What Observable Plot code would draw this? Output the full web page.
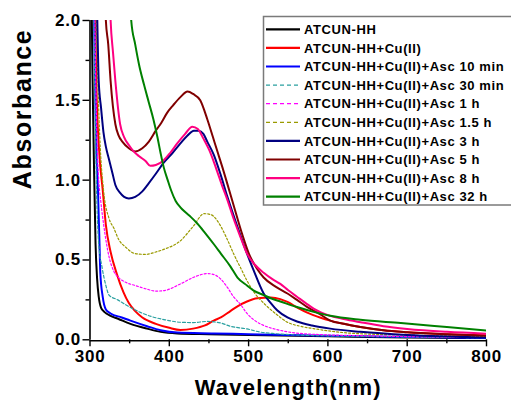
<!DOCTYPE html>
<html><head><meta charset="utf-8">
<script src="https://cdn.jsdelivr.net/npm/d3@7"></script>
<script src="https://cdn.jsdelivr.net/npm/@observablehq/plot@0.6"></script>
<style>
body{margin:0;background:#fff;}
#chart{position:relative;width:511px;height:406px;overflow:hidden;}
#chart svg text{letter-spacing:0.8px;}
#chart svg .ttlx text{letter-spacing:1.2px;}
#chart svg .ttly text{letter-spacing:1.6px;}
#chart svg .lgd text{letter-spacing:0.6px;}
</style></head><body><div id="chart"></div>
<script>
// ---- data ----
const seriesNames = ["ATCUN-HH","ATCUN-HH+Cu(II)","ATCUN-HH+Cu(II)+Asc 10 min","ATCUN-HH+Cu(II)+Asc 30 min","ATCUN-HH+Cu(II)+Asc 1 h","ATCUN-HH+Cu(II)+Asc 1.5 h","ATCUN-HH+Cu(II)+Asc 3 h","ATCUN-HH+Cu(II)+Asc 5 h","ATCUN-HH+Cu(II)+Asc 8 h","ATCUN-HH+Cu(II)+Asc 32 h"];
const seriesColors = ["#000000","#ff0000","#0000ff","#2aa0a0","#ff00ff","#9a9a00","#000080","#800000","#ff0080","#008000"];
const seriesDash = [null,null,null,"3,2","2,2","2,2",null,null,null,null];

const wlBlack  = [301,303,305,307,309,311,314,318,326,336,351,372,389,410,450,500,600,700,800];
const absBlack = [2.6,1.7,1.1,0.6,0.38,0.27,0.2,0.175,0.15,0.13,0.1,0.07,0.05,0.04,0.035,0.03,0.022,0.015,0.01];

const wlRed  = [305,308,312,316,320,326,334,342,349,357,366,383,400,414,430,445,456,465,477,486,498,511,528,540,549,562,574,590,603,620,641,670,700,750,800];
const absRed = [2.5,1.6,1.15,0.94,0.72,0.55,0.41,0.3,0.23,0.18,0.14,0.1,0.075,0.062,0.07,0.09,0.12,0.14,0.18,0.21,0.24,0.26,0.265,0.255,0.237,0.2,0.17,0.14,0.12,0.1,0.08,0.06,0.048,0.035,0.028];

const wlBlue  = [304,306,308,310,312,313,316,320,326,340,351,372,389,410,456,500,600,700,800];
const absBlue = [2.5,1.7,1.2,0.94,0.6,0.42,0.27,0.19,0.165,0.14,0.12,0.085,0.06,0.045,0.04,0.035,0.025,0.018,0.012];

const wlTeal  = [304,306,308,311,315,320,324,335,345,360,378,395,414,430,448,465,477,498,515,530,560,600,700,800];
const absTeal = [2.5,1.6,1.0,0.6,0.46,0.34,0.28,0.25,0.22,0.18,0.145,0.125,0.11,0.108,0.115,0.105,0.085,0.068,0.048,0.04,0.03,0.025,0.018,0.013];

const wlMag  = [305,307,310,314,317,324,330,336,345,357,370,383,395,414,430,448,458,465,473,481,490,498,508,519,535,549,580,650,800];
const absMag = [2.5,1.7,1.1,0.85,0.73,0.52,0.43,0.39,0.36,0.34,0.32,0.305,0.31,0.35,0.39,0.415,0.405,0.38,0.33,0.27,0.22,0.165,0.12,0.09,0.065,0.05,0.035,0.025,0.015];

const wlOlive  = [306,308,310,313,317,324,330,336,345,357,370,383,395,414,430,444,452,460,465,473,481,490,498,508,519,535,549,565,582,610,633,700,800];
const absOlive = [2.5,2.0,1.6,1.2,0.94,0.76,0.7,0.63,0.58,0.54,0.535,0.55,0.57,0.62,0.71,0.79,0.785,0.75,0.71,0.63,0.54,0.45,0.37,0.29,0.23,0.16,0.11,0.085,0.07,0.05,0.04,0.03,0.02];

const wlNavy  = [307,309,311,314,317,320,324,328,332,338,343,349,357,366,374,383,393,404,414,423,431,437,443,448,456,465,473,483,490,498,506,519,528,536,549,561,580,603,641,700,800];
const absNavy = [2.5,2.05,1.62,1.45,1.3,1.21,1.13,1.05,0.97,0.92,0.895,0.885,0.895,0.93,0.98,1.04,1.11,1.17,1.23,1.28,1.31,1.31,1.29,1.24,1.16,1.03,0.9,0.75,0.65,0.54,0.44,0.29,0.23,0.185,0.14,0.115,0.09,0.07,0.05,0.03,0.015];

const wlBrown  = [317,320,323,326,332,336,341,349,357,366,374,383,390,397,405,414,423,430,439,448,455,460,467,473,483,492,502,510,519,535,549,561,574,590,603,620,641,670,700,750,800];
const absBrown = [2.5,2.0,1.85,1.62,1.35,1.28,1.24,1.2,1.18,1.2,1.24,1.31,1.36,1.42,1.47,1.52,1.555,1.54,1.5,1.38,1.27,1.19,1.08,0.98,0.81,0.66,0.52,0.45,0.39,0.33,0.29,0.25,0.205,0.16,0.12,0.1,0.08,0.06,0.048,0.035,0.025];

const wlPink  = [323,326,329,332,338,343,349,355,362,370,376,383,393,401,410,420,429,436,443,452,460,467,473,481,490,498,508,519,530,540,550,561,572,582,603,620,641,670,700,750,800];
const absPink = [2.5,2.0,1.8,1.62,1.35,1.27,1.22,1.18,1.15,1.12,1.09,1.095,1.125,1.17,1.23,1.29,1.335,1.32,1.26,1.17,1.06,0.96,0.88,0.76,0.64,0.54,0.47,0.42,0.38,0.35,0.31,0.27,0.23,0.195,0.15,0.13,0.11,0.085,0.068,0.05,0.038];

const wlGreen  = [349,352,357,362,368,374,380,385,389,393,398,402,408,414,420,427,435,445,456,465,477,486,498,506,519,528,540,561,582,603,641,692,750,800];
const absGreen = [2.5,2.0,1.85,1.72,1.6,1.49,1.38,1.27,1.17,1.08,1.0,0.94,0.87,0.83,0.8,0.77,0.73,0.67,0.6,0.54,0.46,0.39,0.34,0.31,0.28,0.26,0.24,0.205,0.175,0.15,0.125,0.105,0.08,0.058];

const xMajorTicks = [300,400,500,600,700,800];
const xMinorTicks = [350,450,550,650,750];
const yMajorTicks = [0,0.5,1,1.5,2];
const yMinorTicks = [0.25,0.75,1.25,1.75];
const xTitle = "Wavelength(nm)";
const yTitle = "Absorbance";

// ---- build table ----
const wlAll = [wlBlack,wlRed,wlBlue,wlTeal,wlMag,wlOlive,wlNavy,wlBrown,wlPink,wlGreen];
const absAll = [absBlack,absRed,absBlue,absTeal,absMag,absOlive,absNavy,absBrown,absPink,absGreen];
const tables = seriesNames.map((name,i) => wlAll[i].map((w,j) => ({series:name, wl:w, abs:absAll[i][j]})));

const font = "Liberation Sans, Arial, Helvetica, sans-serif";
const lineMarks = tables.map((t,i) => Plot.line(t, {
  x:"wl", y:"abs", stroke: seriesColors[i],
  strokeWidth: seriesDash[i] ? 1.2 : 2,
  strokeDasharray: seriesDash[i] || undefined,
  curve:"monotone-x", clip:true
}));

const plot = Plot.plot({
  width:511, height:406,
  marginLeft:89.5, marginRight:25, marginTop:20, marginBottom:66.7,
  x:{domain:[300,800]},
  y:{domain:[0,2]},
  style:{fontFamily:font, background:"white", color:"black"},
  marks:[
    ...lineMarks,
    Plot.axisX({ticks:xMajorTicks, tickSize:7, tickPadding:3, fontSize:17, fontWeight:"bold", strokeWidth:1.4, label:null, tickFormat:d=>String(d)}),
    Plot.axisX({ticks:xMinorTicks, tickSize:4, strokeWidth:1.4, label:null, tickFormat:()=>""}),
    Plot.axisY({ticks:yMajorTicks, tickSize:7, tickPadding:2, fontSize:17, fontWeight:"bold", strokeWidth:1.4, label:null, tickFormat:d3.format(".1f")}),
    Plot.axisY({ticks:yMinorTicks, tickSize:4, strokeWidth:1.4, label:null, tickFormat:()=>""}),
    Plot.ruleX([300], {stroke:"black", strokeWidth:1.6}),
    Plot.ruleY([0], {stroke:"black", strokeWidth:1.6, dy:1}),
    Plot.text([xTitle], {text:d=>d, frameAnchor:"bottom", dy:55, fontSize:22, fontWeight:"bold", className:"ttlx"}),
    Plot.text([yTitle], {text:d=>d, frameAnchor:"left", rotate:-90, dx:-67, dy:9, fontSize:25, fontWeight:"bold", className:"ttly"})
  ]
});
document.getElementById("chart").appendChild(plot);

// ---- legend ----
const svg = d3.select(plot);
const lg = svg.append("g").attr("class","lgd").attr("font-family", font).attr("font-weight","bold").attr("font-size",13).attr("text-anchor","start");
lg.append("rect").attr("x",263.5).attr("y",16.5).attr("width",270).attr("height",188.5)
  .attr("fill","white").attr("stroke","#7a7a7a").attr("stroke-width",1.5);
seriesNames.forEach((name,i) => {
  const cy = 29.3 + i*18.6;
  lg.append("line").attr("x1",266).attr("x2",300).attr("y1",cy).attr("y2",cy)
    .attr("stroke",seriesColors[i]).attr("stroke-width", seriesDash[i] ? 1.2 : 2.2)
    .attr("stroke-dasharray", seriesDash[i] ? "4,3" : null);
  lg.append("text").attr("x",304).attr("y",cy+4.6).attr("fill","black").attr("text-anchor","start").text(name);
});
</script></body></html>
